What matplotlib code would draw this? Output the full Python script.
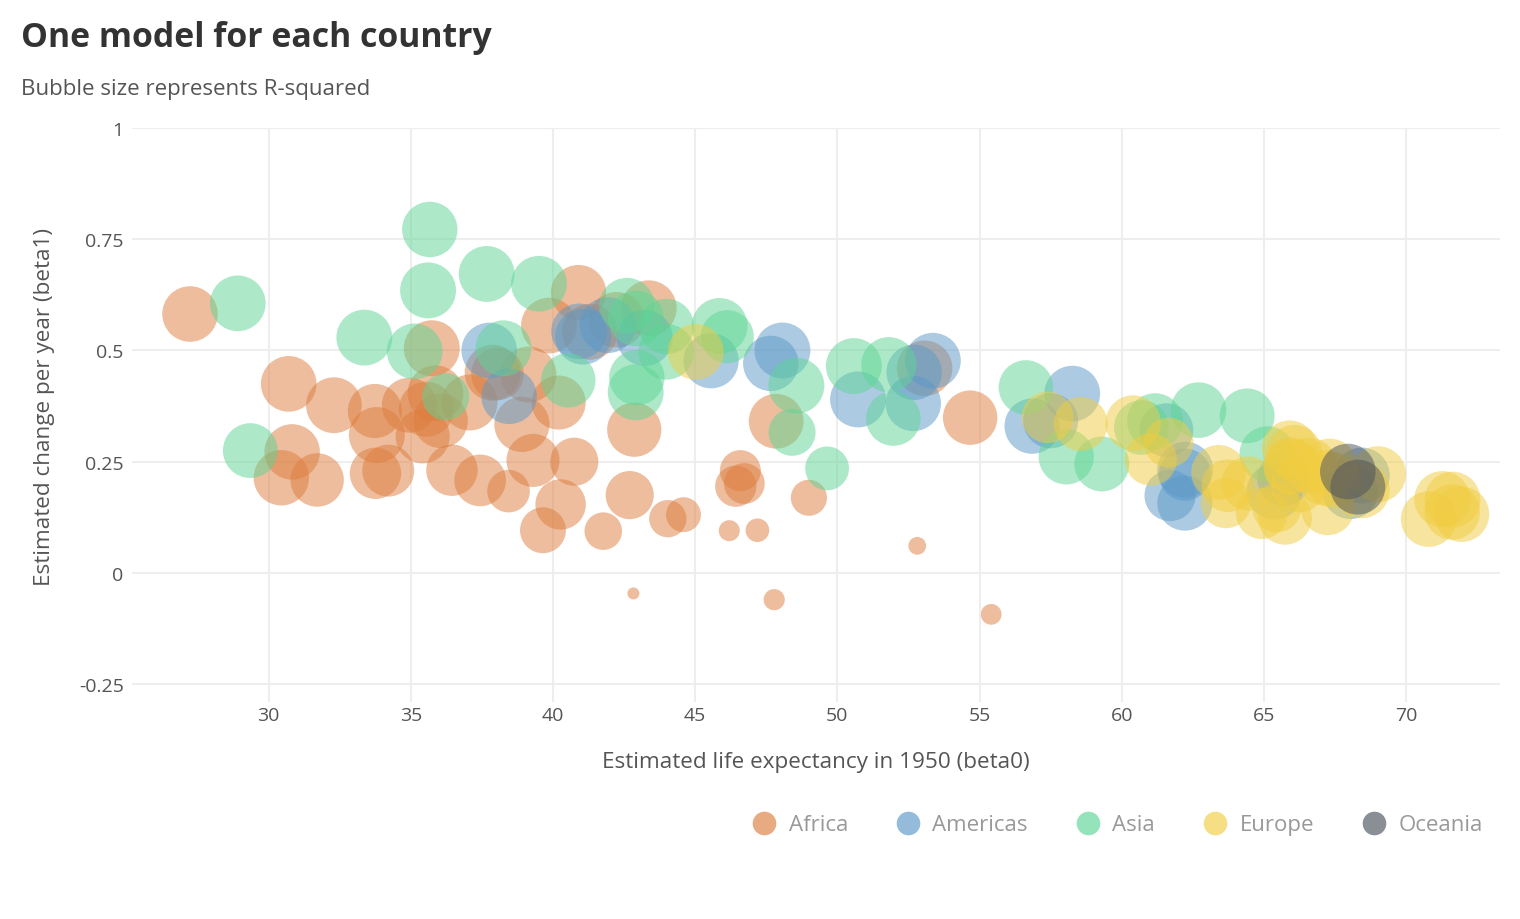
import numpy as np
import matplotlib
matplotlib.use("Agg")
import matplotlib.pyplot as plt
from matplotlib.lines import Line2D

# Un modelo lineal por país: lifeExp ~ (year - 1950)
# beta0 = esperanza de vida estimada en 1950, beta1 = cambio por año, r2 = R-cuadrado

africa_country = ["Algeria", "Angola", "Benin", "Botswana", "Burkina Faso", "Burundi", "Cameroon",
                  "Central African Republic", "Chad", "Comoros", "Congo, Dem. Rep.", "Congo, Rep.",
                  "Cote d'Ivoire", "Djibouti", "Egypt", "Equatorial Guinea", "Eritrea", "Ethiopia",
                  "Gabon", "Gambia", "Ghana", "Guinea", "Guinea-Bissau", "Kenya", "Lesotho", "Liberia",
                  "Libya", "Madagascar", "Malawi", "Mali", "Mauritania", "Mauritius", "Morocco",
                  "Mozambique", "Namibia", "Niger", "Nigeria", "Reunion", "Rwanda",
                  "Sao Tome and Principe", "Senegal", "Sierra Leone", "Somalia", "South Africa",
                  "Sudan", "Swaziland", "Tanzania", "Togo", "Tunisia", "Uganda", "Zambia", "Zimbabwe"]
africa_beta0 = [42.24, 31.71, 38.91, 52.81, 33.74, 40.27, 40.75, 38.44, 39.30, 37.88, 41.77, 46.43,
                44.59, 35.55, 39.86, 33.81, 34.95, 35.42, 38.05, 27.24, 42.86, 30.71, 30.83, 46.59,
                47.19, 39.65, 40.90, 35.87, 36.45, 32.30, 39.14, 54.67, 41.30, 33.76, 46.73, 36.05,
                37.44, 53.07, 42.83, 47.85, 35.74, 30.45, 34.21, 49.00, 37.07, 46.20, 42.70, 40.20,
                43.37, 44.04, 47.78, 55.41]
africa_beta1 = [0.569, 0.209, 0.334, 0.061, 0.364, 0.154, 0.250, 0.184, 0.253, 0.450, 0.094, 0.195,
                0.131, 0.368, 0.556, 0.310, 0.377, 0.307, 0.447, 0.582, 0.322, 0.425, 0.272, 0.230,
                0.096, 0.096, 0.630, 0.404, 0.231, 0.377, 0.446, 0.349, 0.542, 0.224, 0.201, 0.342,
                0.208, 0.460, -0.046, 0.341, 0.505, 0.214, 0.230, 0.169, 0.383, 0.095, 0.175, 0.383,
                0.595, 0.122, -0.060, -0.093]
africa_r2 = [0.985, 0.888, 0.967, 0.034, 0.919, 0.766, 0.680, 0.493, 0.872, 0.997, 0.348, 0.453,
             0.283, 0.961, 0.988, 0.997, 0.953, 0.916, 0.852, 0.980, 0.923, 0.983, 0.977, 0.443,
             0.085, 0.600, 0.972, 0.987, 0.807, 0.990, 0.996, 0.929, 0.995, 0.802, 0.437, 0.936,
             0.817, 0.979, 0.017, 0.947, 0.998, 0.975, 0.825, 0.312, 0.993, 0.058, 0.680, 0.917,
             0.988, 0.342, 0.060, 0.056]

americas_country = ["Argentina", "Bolivia", "Brazil", "Canada", "Chile", "Colombia", "Costa Rica",
                    "Cuba", "Dominican Republic", "Ecuador", "El Salvador", "Guatemala", "Haiti",
                    "Honduras", "Jamaica", "Mexico", "Nicaragua", "Panama", "Paraguay", "Peru",
                    "Puerto Rico", "Trinidad and Tobago", "United States", "Uruguay", "Venezuela"]
americas_beta0 = [62.23, 37.76, 50.73, 68.44, 53.36, 52.67, 58.26, 61.57, 47.66, 48.07, 45.56,
                  41.06, 38.46, 40.92, 62.22, 52.70, 41.93, 57.50, 62.22, 43.23, 65.70, 61.70,
                  68.04, 65.37, 56.85]
americas_beta1 = [0.232, 0.500, 0.390, 0.219, 0.477, 0.381, 0.403, 0.321, 0.471, 0.500, 0.477,
                  0.531, 0.397, 0.543, 0.221, 0.451, 0.557, 0.342, 0.157, 0.528, 0.211, 0.174,
                  0.184, 0.183, 0.330]
americas_r2 = [0.996, 0.982, 0.998, 0.996, 0.989, 0.975, 0.989, 0.903, 0.972, 0.994, 0.968,
               0.994, 0.980, 0.983, 0.840, 0.973, 0.998, 0.958, 0.960, 0.993, 0.889, 0.797,
               0.995, 0.993, 0.972]

asia_country = ["Afghanistan", "Bahrain", "Bangladesh", "Cambodia", "China", "Hong Kong", "India",
                "Indonesia", "Iran", "Iraq", "Israel", "Japan", "Jordan", "Korea, Dem. Rep.",
                "Korea, Rep.", "Kuwait", "Lebanon", "Malaysia", "Mongolia", "Myanmar", "Nepal",
                "Oman", "Pakistan", "Philippines", "Saudi Arabia", "Singapore", "Sri Lanka", "Syria",
                "Taiwan", "Thailand", "Vietnam", "West Bank and Gaza", "Yemen, Rep."]
asia_beta0 = [29.36, 51.81, 35.14, 36.23, 46.13, 62.70, 38.26, 35.61, 43.99, 49.64, 65.12, 64.41,
              42.92, 48.41, 45.86, 56.63, 58.05, 50.58, 42.95, 40.54, 33.37, 35.67, 42.91, 48.56,
              39.51, 61.17, 59.30, 43.99, 60.69, 51.97, 37.67, 42.60, 28.92]
asia_beta1 = [0.275, 0.468, 0.498, 0.396, 0.531, 0.366, 0.505, 0.635, 0.497, 0.235, 0.267, 0.353,
              0.572, 0.316, 0.555, 0.417, 0.261, 0.465, 0.439, 0.433, 0.529, 0.772, 0.406, 0.421,
              0.650, 0.341, 0.245, 0.554, 0.327, 0.347, 0.672, 0.601, 0.606]
asia_r2 = [0.948, 0.967, 0.989, 0.639, 0.873, 0.982, 0.991, 0.997, 0.987, 0.530, 0.992, 0.950,
           0.980, 0.637, 0.998, 0.932, 0.967, 0.993, 0.971, 0.930, 0.994, 0.975, 0.995, 0.997,
           0.987, 0.999, 0.951, 0.969, 0.941, 0.935, 0.993, 0.973, 0.987]

europe_country = ["Albania", "Austria", "Belgium", "Bosnia and Herzegovina", "Bulgaria", "Croatia",
                  "Czech Republic", "Denmark", "Finland", "France", "Germany", "Greece", "Hungary",
                  "Iceland", "Ireland", "Italy", "Montenegro", "Netherlands", "Norway", "Poland",
                  "Portugal", "Romania", "Serbia", "Slovak Republic", "Slovenia", "Spain", "Sweden",
                  "Switzerland", "Turkey", "United Kingdom"]
europe_beta0 = [58.56, 65.97, 67.47, 57.39, 65.45, 63.41, 67.24, 70.79, 65.97, 67.31, 67.14, 66.58,
                65.74, 71.63, 66.22, 66.06, 61.65, 71.62, 71.95, 63.73, 60.40, 63.66, 61.02, 64.92,
                64.46, 65.90, 71.27, 69.01, 45.02, 68.44]
europe_beta1 = [0.335, 0.242, 0.209, 0.350, 0.146, 0.226, 0.145, 0.121, 0.238, 0.239, 0.214, 0.242,
                0.124, 0.165, 0.199, 0.270, 0.293, 0.137, 0.132, 0.196, 0.337, 0.157, 0.255, 0.134,
                0.201, 0.281, 0.166, 0.222, 0.497, 0.186]
europe_r2 = [0.911, 0.992, 0.995, 0.814, 0.709, 0.950, 0.893, 0.979, 0.990, 0.998, 0.989, 0.966,
             0.905, 0.992, 0.998, 0.994, 0.741, 0.982, 0.970, 0.860, 0.973, 0.760, 0.837, 0.806,
             0.930, 0.957, 0.998, 0.997, 0.994, 0.998]

oceania_country = ["Australia", "New Zealand"]
oceania_beta0 = [67.95, 68.30]
oceania_beta1 = [0.228, 0.193]
oceania_r2 = [0.980, 0.954]

continents = ["Africa", "Americas", "Asia", "Europe", "Oceania"]
colors = ["#DD7D3D", "#5B99C7", "#5DD595", "#F1CD41", "#4B515D"]

plt.rcParams["font.family"] = ["Open Sans", "DejaVu Sans"]

fig = plt.figure(figsize=(15.2, 9.2), dpi=100)
ax = fig.add_axes([132 / 1520, 1 - 703 / 920, 1368 / 1520, 574 / 920])

groups = [
    (africa_beta0, africa_beta1, africa_r2),
    (americas_beta0, americas_beta1, americas_r2),
    (asia_beta0, asia_beta1, asia_r2),
    (europe_beta0, europe_beta1, europe_r2),
    (oceania_beta0, oceania_beta1, oceania_r2),
]

all_r2 = np.concatenate([np.array(g[2]) for g in groups])
r2_min, r2_max = all_r2.min(), all_r2.max()
r_min, r_max = 6.0, 28.0  # radio en pixeles

for (b0, b1, r2), col in zip(groups, colors):
    # area lineal en R-squared entre r_min y r_max
    frac = (np.array(r2) - r2_min) / (r2_max - r2_min)
    radius_pt = (r_min + (r_max - r_min) * np.sqrt(frac)) * 0.72
    ax.scatter(b0, b1, s=(2 * radius_pt) ** 2, color=col, alpha=0.5, edgecolors="none", zorder=3)

ax.set_xlim(25.2, 73.3)
ax.set_ylim(-0.29, 1.0)
ax.set_xticks([30, 35, 40, 45, 50, 55, 60, 65, 70])
ax.set_yticks([-0.25, 0, 0.25, 0.5, 0.75, 1])
ax.set_yticklabels(["-0.25", "0", "0.25", "0.5", "0.75", "1"])
ax.grid(True, color="#EEEEEE", linewidth=1.5)
ax.set_axisbelow(True)
for s in ax.spines.values():
    s.set_visible(False)
ax.tick_params(length=0, labelsize=14, colors="#555555")
ax.tick_params(axis="x", pad=3)
ax.tick_params(axis="y", pad=6)

ax.set_xlabel("Estimated life expectancy in 1950 (beta0)", fontsize=16.2, color="#555555", labelpad=19)
ax.set_ylabel("Estimated change per year (beta1)", fontsize=16.2, color="#555555")
ax.yaxis.set_label_coords(-0.0563, 0.5157)

fig.text(21 / 1520, 1 - 38 / 920, "One model for each country", fontsize=24.4, fontweight="bold",
         color="#333333", va="center", ha="left")
fig.text(21 / 1520, 1 - 90 / 920, "Bubble size represents R-squared", fontsize=16.1,
         color="#555555", va="center", ha="left")

handles = [Line2D([], [], marker="o", linestyle="", markersize=17, markerfacecolor=c,
                  markeredgecolor="none", alpha=0.65) for c in colors]
fig.legend(handles, continents, loc="center right", bbox_to_anchor=(1494 / 1520, 1 - 826 / 920),
           ncol=5, frameon=False, fontsize=16, labelcolor="#999999", handlelength=1.0,
           handletextpad=0.6, columnspacing=2.2, borderpad=0)

fig.savefig("out.png", dpi=100)
